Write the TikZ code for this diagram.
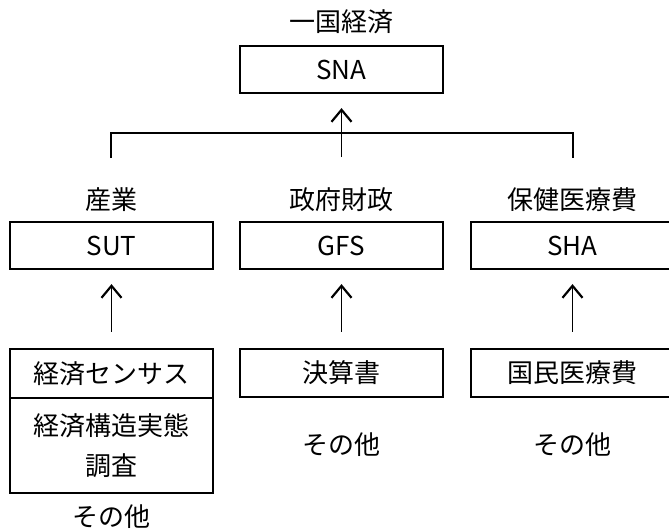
\documentclass[tikz,border=0pt]{standalone}
\usepackage{fontspec}
\setmainfont{Noto Sans CJK JP}
\usetikzlibrary{arrows.meta}
\begin{document}
\begin{tikzpicture}[x=1pt,y=-1pt,
  txt/.style={inner sep=0pt,font=\fontsize{26}{40}\selectfont},
  box/.style={txt,draw,line width=2.2pt,minimum width=203pt,align=center},
  arr/.style={line width=1.8pt,-{Straight Barb[length=12pt,width=20pt,line width=2.2pt]}},
  conn/.style={line width=1.6pt}]
\path[use as bounding box,clip] (0,0) rectangle (669,530);
% top
\node[txt] (top) at (341.5,22) {一国経済};
\node[box,minimum height=47pt] (sna) at (341.5,69.5) {SNA};
% labels
\node[txt] (l1) at (111.5,200) {産業};
\node[txt] (l2) at (341.5,200) {政府財政};
\node[txt] (l3) at (572.5,200) {保健医療費};
% second row boxes
\node[box,minimum height=47pt] (sut) at (111.5,245.5) {SUT};
\node[box,minimum height=47pt] (gfs) at (341.5,245.5) {GFS};
\node[box,minimum height=47pt] (sha) at (572.5,245.5) {SHA};
% third row
\node[box,minimum height=49pt] (cen) at (111.5,373.5) {経済センサス};
\node[box,minimum height=95pt] (kozo) at (111.5,445.5) {経済構造実態\\調査};
\node[box,minimum height=48pt] (kes) at (341.5,373) {決算書};
\node[box,minimum height=48pt] (kok) at (572.5,373) {国民医療費};
% others
\node[txt] (o1) at (111.5,517) {その他};
\node[txt] (o2) at (341.5,445) {その他};
\node[txt] (o3) at (572.5,445) {その他};
% bracket
\coordinate (bl) at (111,158);
\coordinate (br) at (573,158);
\coordinate (bm) at (341.5,157);
\draw[conn] (bl) -- ++(0,-25) -| (br);
\draw[arr,shorten >=14pt] (bm) -- (sna.south);
% arrows
\draw[arr,shorten <=16pt,shorten >=14pt] (cen.north) -- (sut.south);
\draw[arr,shorten <=16pt,shorten >=14pt] (kes.north) -- (gfs.south);
\draw[arr,shorten <=16pt,shorten >=14pt] (kok.north) -- (sha.south);
\end{tikzpicture}
\end{document}
